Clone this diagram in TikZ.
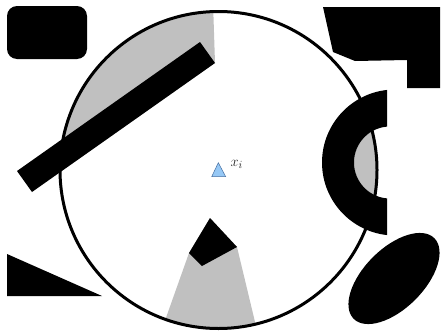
\documentclass[tikz,border=0pt]{standalone}
\usetikzlibrary{calc}
\definecolor{shade}{RGB}{192,192,192}
\definecolor{tri}{RGB}{150,200,245}
\definecolor{triedge}{RGB}{70,110,160}
\begin{document}
\begin{tikzpicture}[x=1pt,y=-1pt,
  obstacle/.style={fill=black},
  shadow/.style={fill=shade},
  ring/.style={draw=black,line width=3pt}]
\useasboundingbox (0,0) rectangle (441,332);
\coordinate (xi) at (218.5,170);
% bar corners
\coordinate (A) at (200,42);
\coordinate (B) at (215,63);
\coordinate (C) at (32,192);
\coordinate (D) at (17,171);
% quad corners
\coordinate (T) at (210,218);
\coordinate (R) at (237,247);
\coordinate (Bo) at (202,266);
\coordinate (L) at (189,253);
% shadows inside the circle
\begin{scope}
  \clip (xi) circle [radius=158.5pt];
  \fill[shadow] (B) -- ($(xi)!5!(B)$) -- ($(xi)!5!(C)$) -- (C) -- cycle;
  \fill[shadow] (L) -- ($(xi)!5!(L)$) -- ($(xi)!5!(R)$) -- (R) -- (T) -- cycle;
  \fill[shadow] (390,162.5) circle [radius=36pt];
\end{scope}
% circle
\draw[ring] (xi) circle [radius=158.5pt];
% obstacles
\fill[obstacle,rounded corners=10pt] (7,6) rectangle (87,59);
\fill[obstacle] (A) -- (B) -- (C) -- (D) -- cycle;
\fill[obstacle] (T) -- (R) -- (Bo) -- (L) -- cycle;
\fill[obstacle] (323,7) -- (440,7) -- (440,88) -- (407,88) -- (407,60) -- (355,61) -- (333,52) -- cycle;
\fill[obstacle] (7,254) -- (7,296) -- (102,296) -- cycle;
\fill[obstacle,rotate around={45:(394,278.5)}] (394,278.5) ellipse [x radius=57pt, y radius=30pt];
\begin{scope}
  \clip (300,80) rectangle (387,250);
  \fill[obstacle,even odd rule] (395,162.5) circle [radius=73pt] (390,162.5) circle [radius=36pt];
\end{scope}
% point
\filldraw[fill=tri,draw=triedge,line width=0.5pt] (218.3,162.7) -- (211.7,176.7) -- (225.7,176.7) -- cycle;
\node[anchor=base west,inner sep=0pt,font=\fontsize{15}{17}\selectfont,text=black!85] (lab) at (230.5,166.7) {$x_i$};
\end{tikzpicture}
\end{document}
